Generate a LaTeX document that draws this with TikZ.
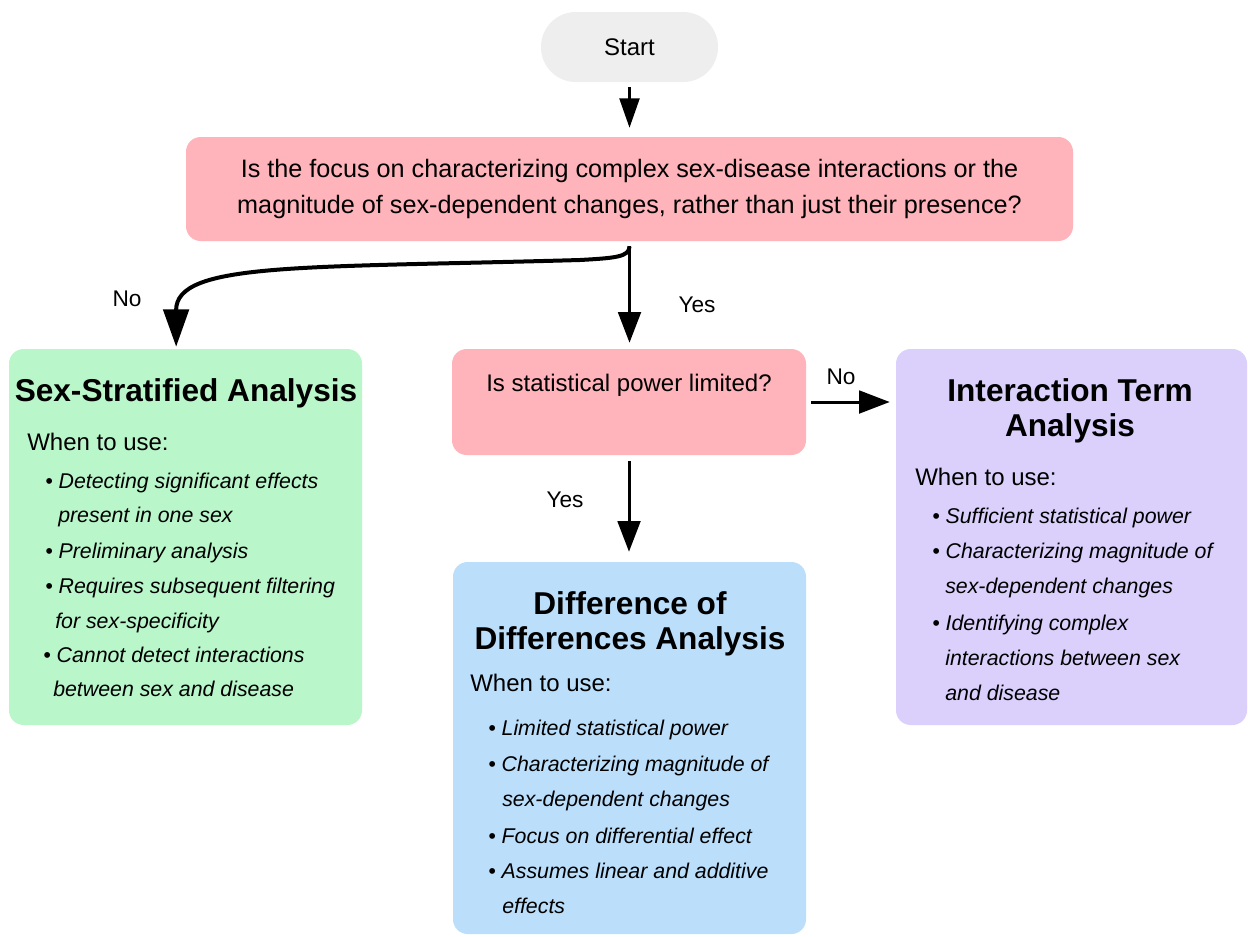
\documentclass[tikz,border=0pt]{standalone}
\usepackage{fontspec}
\setmainfont{Liberation Sans}
\usetikzlibrary{arrows.meta}
\definecolor{qpink}{HTML}{FFB3BA}
\definecolor{sgreen}{HTML}{B9F6CA}
\definecolor{dblue}{HTML}{BBDEFB}
\definecolor{ipurple}{HTML}{DAD0FB}
\definecolor{sgray}{HTML}{EEEEEE}
\begin{document}
\begin{tikzpicture}[x=0.75pt,y=-0.75pt,
        box/.style={rounded corners=11pt, inner sep=0pt},
        txt/.style={inner sep=0pt, font=\fontsize{18}{27}\selectfont},
        ttl/.style={inner sep=0pt, align=center, font=\fontsize{23.7}{26.5}\selectfont\bfseries},
        itm/.style={inner sep=0pt, anchor=mid west, font=\fontsize{16}{20}\selectfont\itshape},
        lbl/.style={inner sep=0pt, font=\fontsize{17}{20}\selectfont},
        flow/.style={line width=2.25pt, -{Triangle[length=23pt,width=17pt]}}]
                    \useasboundingbox (0,0) rectangle (1248,936);

                    \node[box, fill=sgray, rounded corners=26pt, minimum width=132.75pt, minimum height=52.5pt, txt] (start) at (629.5,47) {Start};

                    \node[box, fill=qpink, minimum width=665.25pt, minimum height=78pt, txt, font=\fontsize{18.9}{27}\selectfont, align=center] (q1) at (629.5,189)
                        {Is the focus on characterizing complex sex-disease interactions or the\\magnitude of sex-dependent changes, rather than just their presence?};

                    \node[box, fill=qpink, minimum width=265.5pt, minimum height=79.5pt] (q2) at (629,402) {};
                    \node[txt] (q2txt) at (629,385) {Is statistical power limited?};

                    \node[box, fill=sgreen, minimum width=264.75pt, minimum height=282pt] (strat) at (185.5,537) {};
                    \node[ttl] (stratttl) at (186,393) {Sex-Stratified Analysis};
                    \node[txt, anchor=mid west] (stratwhen) at (27,447) {When to use:};
                    \node[itm] (strat1) at (45,485) {• Detecting significant effects};
                    \node[itm] (strat2) at (58,519) {present in one sex};
                    \node[itm] (strat3) at (45,555) {• Preliminary analysis};
                    \node[itm] (strat4) at (45,590) {• Requires subsequent filtering};
                    \node[itm] (strat5) at (55,625) {for sex-specificity};
                    \node[itm] (strat6) at (43,659) {• Cannot detect interactions};
                    \node[itm] (strat7) at (53,693) {between sex and disease};

                    \node[box, fill=ipurple, minimum width=263.25pt, minimum height=282pt] (inter) at (1071.5,537) {};
                    \node[ttl] (interttl) at (1070,411) {Interaction Term\\Analysis};
                    \node[txt, anchor=mid west] (interwhen) at (915,482) {When to use:};
                    \node[itm] (inter1) at (932,520) {• Sufficient statistical power};
                    \node[itm] (inter2) at (932,555) {• Characterizing magnitude of};
                    \node[itm] (inter3) at (945,590) {sex-dependent changes};
                    \node[itm] (inter4) at (932,627) {• Identifying complex};
                    \node[itm] (inter5) at (945,662) {interactions between sex};
                    \node[itm] (inter6) at (945,697) {and disease};

                    \node[box, fill=dblue, minimum width=264.75pt, minimum height=279pt] (dod) at (629.5,748) {};
                    \node[ttl] (dodttl) at (630,624) {Difference of\\Differences Analysis};
                    \node[txt, anchor=mid west] (dodwhen) at (470,688) {When to use:};
                    \node[itm] (dod1) at (488,732) {• Limited statistical power};
                    \node[itm] (dod2) at (488,768) {• Characterizing magnitude of};
                    \node[itm] (dod3) at (502,803) {sex-dependent changes};
                    \node[itm] (dod4) at (488,840) {• Focus on differential effect};
                    \node[itm] (dod5) at (488,875) {• Assumes linear and additive};
                    \node[itm] (dod6) at (502,910) {effects};

                    \draw[flow, line width=1.6pt, -{Triangle[length=22pt,width=15pt]}, shorten <=3.75pt, shorten >=6.75pt] (start) -- (q1);
                    \draw[line width=3pt, -{Triangle[length=28pt,width=19pt]}, shorten <=3.75pt, shorten >=1.5pt]
                        (q1.south) .. controls (629.5,257) and (615,258) .. (580,260) .. controls (300,268) and (176,262) .. ([xshift=-7pt]strat.north);
                    \draw[flow, shorten <=3.75pt, shorten >=4.5pt] (q1.south) -- (q1.south |- q2.north);
                    \draw[flow, shorten <=4.5pt, shorten >=7.5pt] (q2.south) -- (q2.south |- dod.north);
                    \draw[flow, shorten <=3.75pt, shorten >=4.5pt] (q2.east) -- (q2.east -| inter.west);

                    \node[lbl] (no1) at (127,299) {No};
                    \node[lbl] (yes1) at (697,305) {Yes};
                    \node[lbl] (no2) at (841,377) {No};
                    \node[lbl] (yes2) at (565,500) {Yes};
                \end{tikzpicture}
\end{document}
